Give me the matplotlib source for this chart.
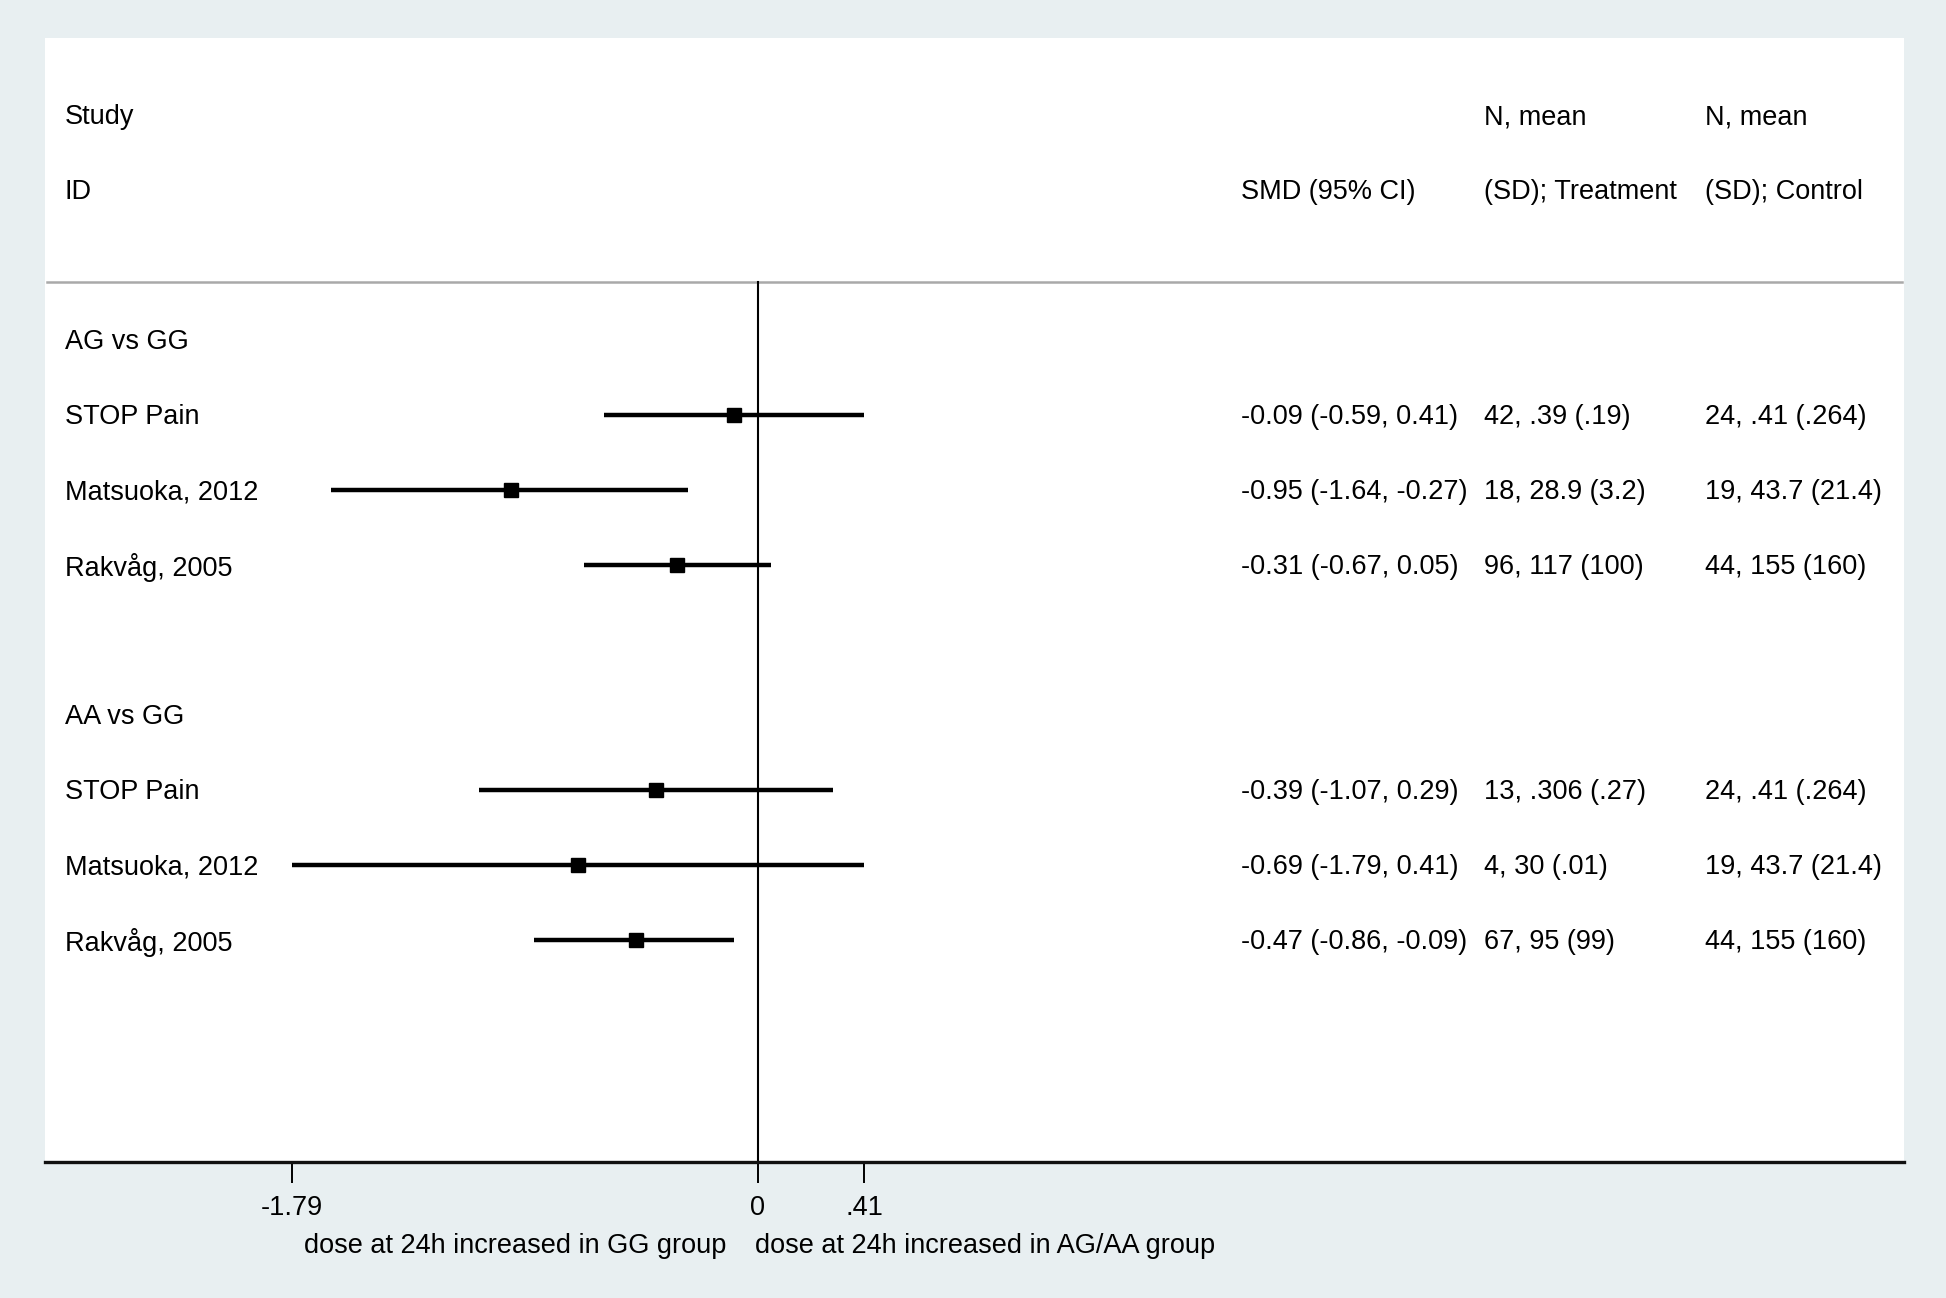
import matplotlib
matplotlib.use("Agg")
import matplotlib.pyplot as plt
import matplotlib.transforms as mtransforms

plt.rcParams['font.family'] = ['Liberation Sans', 'DejaVu Sans']

# ---- data ----
groups = ["AG vs GG", "AA vs GG"]
studies = ["STOP Pain", "Matsuoka, 2012", "Rakvåg, 2005"]
smd = [[-0.09, -0.95, -0.31], [-0.39, -0.69, -0.47]]
ci_lo = [[-0.59, -1.64, -0.67], [-1.07, -1.79, -0.86]]
ci_hi = [[0.41, -0.27, 0.05], [0.29, 0.41, -0.09]]
treatment = [["42, .39 (.19)", "18, 28.9 (3.2)", "96, 117 (100)"],
             ["13, .306 (.27)", "4, 30 (.01)", "67, 95 (99)"]]
control = [["24, .41 (.264)", "19, 43.7 (21.4)", "44, 155 (160)"],
           ["24, .41 (.264)", "19, 43.7 (21.4)", "44, 155 (160)"]]
tick_vals = [-1.79, 0, 0.41]
tick_labels = ["-1.79", "0", ".41"]
xlabel_left = "dose at 24h increased in GG group"
xlabel_right = "dose at 24h increased in AG/AA group"

BG = "#e8eff1"
FS = 19.5
DY = 0.03  # small text baseline nudge

fig = plt.figure(figsize=(19.46, 12.98), dpi=100, facecolor=BG)
ax = fig.add_axes([45/1946, 1 - 1162/1298, (1904-45)/1946, (1162-38)/1298])
ax.set_facecolor("white")

ax.set_xlim(-2.740, 4.406)
ax.set_ylim(13.96, -1.03)

for s in ["top", "left", "right"]:
    ax.spines[s].set_visible(False)
ax.spines["bottom"].set_linewidth(2.4)
ax.spines["bottom"].set_color("#111111")
ax.set_yticks([])
ax.set_xticks(tick_vals)
ax.set_xticklabels(tick_labels, fontsize=FS)
ax.tick_params(axis="x", length=15, width=1.4, direction="out", pad=8.5, colors="black")

tr = mtransforms.blended_transform_factory(ax.transAxes, ax.transData)
col_x = [0.0107, 0.6433, 0.7742, 0.8931]

def put(x, y, s):
    ax.text(x, y + DY, s, transform=tr, fontsize=FS, va="center")

# header
put(col_x[0], 0, "Study")
put(col_x[0], 1, "ID")
put(col_x[1], 1, "SMD (95% CI)")
put(col_x[2], 0, "N, mean")
put(col_x[2], 1, "(SD); Treatment")
put(col_x[3], 0, "N, mean")
put(col_x[3], 1, "(SD); Control")

header_line_y = 2.22
ax.axhline(header_line_y, xmin=0.001, xmax=0.999, color="#a9a9a9", lw=1.8)

# zero line
ax.plot([0, 0], [header_line_y, 13.96], color="black", lw=1.5, zorder=2)

row = 3
for g in range(len(groups)):
    put(col_x[0], row, groups[g])
    row += 1
    for i in range(len(studies)):
        put(col_x[0], row, studies[i])
        ax.plot([ci_lo[g][i], ci_hi[g][i]], [row, row], color="black", lw=3.2,
                solid_capstyle="butt", zorder=3)
        ax.plot([smd[g][i]], [row], marker="s", color="black", markersize=10,
                zorder=4)
        lab = "%.2f (%.2f, %.2f)" % (smd[g][i], ci_lo[g][i], ci_hi[g][i])
        put(col_x[1], row, lab)
        put(col_x[2], row, treatment[g][i])
        put(col_x[3], row, control[g][i])
        row += 1
    row += 1

trx = mtransforms.blended_transform_factory(ax.transData, fig.transFigure)
ax.text(-0.12, 1 - 1246/1298, xlabel_left, transform=trx, fontsize=FS,
        ha="right", va="center")
ax.text(-0.01, 1 - 1246/1298, xlabel_right, transform=trx, fontsize=FS,
        ha="left", va="center")

fig.savefig("out.png", dpi=100, facecolor=BG)
